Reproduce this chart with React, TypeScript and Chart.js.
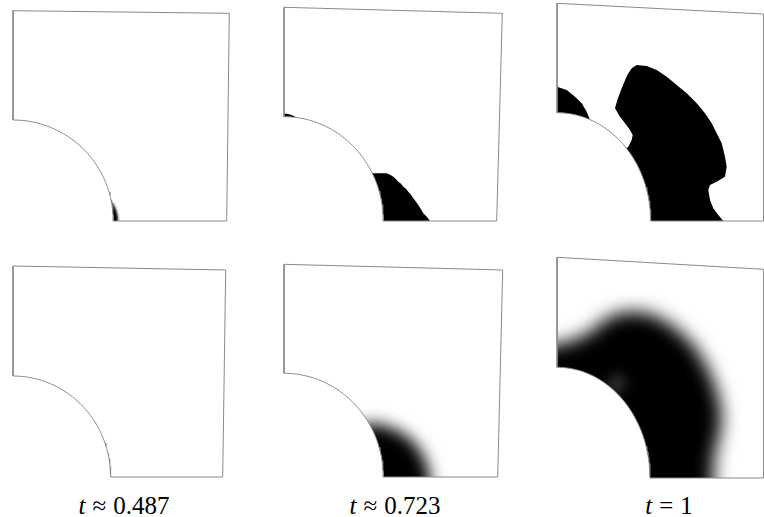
import React, { useEffect, useRef } from 'react';
import { Chart, registerables } from 'chart.js';

type P = { x: number; y: number };
type Hole = { rx: number; ry: number };

// ---- t values shown under each column ----
const tValues = ['0.487', '0.723', '1'];
const tRelations = ['\u2248', '\u2248', '='];

// ---- plate corners [bottom-right, top-right, top-left] in hole-radius units ----
const plate1: P[] = [{ x: 2.137, y: 0 }, { x: 2.163, y: 2.077 }, { x: 0, y: 2.103 }];
const plate2: P[] = [{ x: 2.127, y: 0 }, { x: 2.183, y: 2.077 }, { x: 0, y: 2.137 }];
const plate3: P[] = [{ x: 2.065, y: 0 }, { x: 2.065, y: 2.07 }, { x: 0, y: 2.177 }];
const plate4: P[] = [{ x: 2.097, y: 0 }, { x: 2.127, y: 2.07 }, { x: 0, y: 2.11 }];
const plate5: P[] = [{ x: 2.137, y: 0 }, { x: 2.187, y: 2.07 }, { x: 0, y: 2.127 }];
const plate6: P[] = [{ x: 2.065, y: 0 }, { x: 2.065, y: 2.087 }, { x: 0, y: 2.207 }];

// ---- hole semi-axes ----
const hole1: Hole = { rx: 1.003, ry: 1.01 };
const hole2: Hole = { rx: 0.993, ry: 1.043 };
const hole3: Hole = { rx: 0.937, ry: 1.083 };
const hole4: Hole = { rx: 0.977, ry: 1.01 };
const hole5: Hole = { rx: 0.993, ry: 1.037 };
const hole6: Hole = { rx: 0.93, ry: 1.107 };

// ---- material regions (black) ----
const blob1: P[] = [
  { x: 0.95, y: 0.2 }, { x: 0.99, y: 0.185 }, { x: 1.015, y: 0.15 }, { x: 1.035, y: 0.1 },
  { x: 1.048, y: 0.05 }, { x: 1.05, y: 0 }, { x: 1.05, y: -0.1 }, { x: 0.9, y: -0.1 },
];
const blob2main: P[] = [
  { x: 0.8, y: 0.477 }, { x: 1.027, y: 0.477 }, { x: 1.06, y: 0.462 }, { x: 1.093, y: 0.443 },
  { x: 1.12, y: 0.418 }, { x: 1.143, y: 0.393 }, { x: 1.17, y: 0.372 }, { x: 1.193, y: 0.343 },
  { x: 1.22, y: 0.322 }, { x: 1.243, y: 0.293 }, { x: 1.27, y: 0.262 }, { x: 1.293, y: 0.227 },
  { x: 1.32, y: 0.192 }, { x: 1.343, y: 0.16 }, { x: 1.37, y: 0.118 }, { x: 1.393, y: 0.077 },
  { x: 1.43, y: 0.04 }, { x: 1.46, y: 0 }, { x: 1.46, y: -0.1 }, { x: 0.7, y: -0.1 },
];
const blob2left: P[] = [
  { x: -0.1, y: 1.0 }, { x: -0.1, y: 1.072 }, { x: 0.03, y: 1.072 }, { x: 0.07, y: 1.062 },
  { x: 0.11, y: 1.045 }, { x: 0.1, y: 1.0 },
];
const blob3main: P[] = [
  { x: 0.55, y: 0.6 }, { x: 0.713, y: 0.743 }, { x: 0.747, y: 0.81 }, { x: 0.757, y: 0.86 },
  { x: 0.73, y: 0.91 }, { x: 0.68, y: 0.977 }, { x: 0.63, y: 1.043 }, { x: 0.58, y: 1.127 },
  { x: 0.603, y: 1.21 }, { x: 0.647, y: 1.327 }, { x: 0.703, y: 1.46 }, { x: 0.747, y: 1.527 },
  { x: 0.797, y: 1.56 }, { x: 0.897, y: 1.55 }, { x: 0.997, y: 1.51 }, { x: 1.097, y: 1.443 },
  { x: 1.197, y: 1.36 }, { x: 1.297, y: 1.277 }, { x: 1.397, y: 1.177 }, { x: 1.48, y: 1.077 },
  { x: 1.547, y: 0.977 }, { x: 1.597, y: 0.877 }, { x: 1.647, y: 0.777 }, { x: 1.68, y: 0.643 },
  { x: 1.697, y: 0.543 }, { x: 1.68, y: 0.443 }, { x: 1.597, y: 0.393 }, { x: 1.53, y: 0.36 },
  { x: 1.513, y: 0.31 }, { x: 1.53, y: 0.21 }, { x: 1.563, y: 0.127 }, { x: 1.613, y: 0.06 },
  { x: 1.663, y: 0 }, { x: 1.663, y: -0.1 }, { x: 0.6, y: -0.1 },
];
const blob3left: P[] = [
  { x: -0.1, y: 1.343 }, { x: 0, y: 1.343 }, { x: 0.097, y: 1.31 }, { x: 0.18, y: 1.243 },
  { x: 0.247, y: 1.177 }, { x: 0.297, y: 1.093 }, { x: 0.323, y: 1.027 }, { x: 0.3, y: 0.9 },
  { x: -0.1, y: 0.9 },
];
const blob5: P[] = [
  { x: 0.6, y: 0.45 }, { x: 0.85, y: 0.537 }, { x: 0.993, y: 0.52 }, { x: 1.127, y: 0.47 },
  { x: 1.26, y: 0.387 }, { x: 1.36, y: 0.27 }, { x: 1.427, y: 0.137 }, { x: 1.46, y: 0 },
  { x: 1.46, y: -0.3 }, { x: 0.6, y: -0.3 },
];
const blob6: P[] = [
  { x: -0.2, y: 1.33 }, { x: 0, y: 1.33 }, { x: 0.163, y: 1.38 }, { x: 0.33, y: 1.453 },
  { x: 0.43, y: 1.547 }, { x: 0.563, y: 1.63 }, { x: 0.697, y: 1.663 }, { x: 0.83, y: 1.663 },
  { x: 0.963, y: 1.63 }, { x: 1.097, y: 1.563 }, { x: 1.23, y: 1.463 }, { x: 1.347, y: 1.347 },
  { x: 1.447, y: 1.213 }, { x: 1.53, y: 1.047 }, { x: 1.597, y: 0.88 }, { x: 1.637, y: 0.713 },
  { x: 1.647, y: 0.547 }, { x: 1.613, y: 0.38 }, { x: 1.57, y: 0.213 }, { x: 1.563, y: 0 },
  { x: 1.563, y: -0.3 }, { x: 0.5, y: -0.3 }, { x: 0.5, y: 0.8 }, { x: -0.2, y: 0.8 },
];
const spot6: P[] = [
  { x: 0.53, y: 0.95 }, { x: 0.6, y: 1.02 }, { x: 0.67, y: 0.96 }, { x: 0.62, y: 0.87 },
];

type Blob = { points: P[]; color: string; blur: number; order: number };
type Spec = { corners: P[]; hole: Hole; blobs: Blob[] };

const BLACK = '#000000';
const specs: Spec[] = [
  { corners: plate1, hole: hole1, blobs: [{ points: blob1, color: BLACK, blur: 1, order: 2 }] },
  {
    corners: plate2, hole: hole2, blobs: [
      { points: blob2main, color: BLACK, blur: 0.7, order: 2 },
      { points: blob2left, color: BLACK, blur: 0.7, order: 2 },
    ],
  },
  {
    corners: plate3, hole: hole3, blobs: [
      { points: blob3main, color: BLACK, blur: 0.7, order: 2 },
      { points: blob3left, color: BLACK, blur: 0.7, order: 2 },
    ],
  },
  { corners: plate4, hole: hole4, blobs: [] },
  { corners: plate5, hole: hole5, blobs: [{ points: blob5, color: BLACK, blur: 8, order: 2 }] },
  {
    corners: plate6, hole: hole6, blobs: [
      { points: blob6, color: BLACK, blur: 9, order: 2 },
      { points: spot6, color: 'rgba(255,255,255,0.45)', blur: 7, order: 1 },
    ],
  },
];

// layout: hole centre of each panel in page pixels
const panelCentres = [
  [13, 221], [284, 221], [557, 221],
  [13, 477], [284, 477], [557, 478],
];
const labelCentres = [124, 395, 669];

const RANGE_MIN = -0.05;
const RANGE_MAX = 2.25;
const CANVAS = 230;

function holeArc(h: Hole, n = 60): P[] {
  const pts: P[] = [];
  for (let i = 0; i <= n; i++) {
    const a = (Math.PI / 2) * (1 - i / n);
    pts.push({ x: h.rx * Math.cos(a), y: h.ry * Math.sin(a) });
  }
  return pts;
}

function plateOutline(corners: P[], hole: Hole): P[] {
  return [{ x: hole.rx, y: 0 }, ...corners, { x: 0, y: hole.ry }, ...holeArc(hole).slice(1)];
}

const plateClipPlugin = {
  id: 'plateClip',
  beforeDatasetDraw(chart: any, args: any) {
    const ds = chart.data.datasets[args.index];
    if (!ds || !ds.clipPlate) return;
    const ctx = chart.ctx as CanvasRenderingContext2D;
    const xs = chart.scales.x;
    const ys = chart.scales.y;
    ctx.save();
    ctx.beginPath();
    ds.clipPlate.forEach((p: P, i: number) => {
      const px = xs.getPixelForValue(p.x);
      const py = ys.getPixelForValue(p.y);
      if (i === 0) ctx.moveTo(px, py);
      else ctx.lineTo(px, py);
    });
    ctx.closePath();
    ctx.clip();
    if (ds.blur) ctx.filter = `blur(${ds.blur}px)`;
  },
  afterDatasetDraw(chart: any, args: any) {
    const ds = chart.data.datasets[args.index];
    if (!ds || !ds.clipPlate) return;
    chart.ctx.restore();
  },
};

Chart.register(plateClipPlugin);
Chart.register(...registerables);

function Panel({ spec, left, top }: { spec: Spec; left: number; top: number }) {
  const ref = useRef<HTMLCanvasElement>(null);
  useEffect(() => {
    if (!ref.current) return;
    const outline = plateOutline(spec.corners, spec.hole);
    const datasets: any[] = [
      {
        data: outline,
        showLine: true,
        borderColor: '#8a8a8a',
        borderWidth: 1,
        pointRadius: 0,
        fill: false,
        order: 0,
      },
    ];
    spec.blobs.forEach((b) => {
      datasets.push({
        data: [...b.points, b.points[0]],
        showLine: true,
        borderColor: 'rgba(0,0,0,0)',
        borderWidth: 0,
        backgroundColor: b.color,
        fill: 'shape',
        pointRadius: 0,
        order: b.order,
        clipPlate: outline,
        blur: b.blur,
      });
    });
    const chart = new Chart(ref.current, {
      type: 'scatter',
      data: { datasets },
      options: {
        animation: false,
        responsive: false,
        devicePixelRatio: 1,
        events: [],
        layout: { padding: 0 },
        plugins: { legend: { display: false }, tooltip: { enabled: false } },
        scales: {
          x: { type: 'linear', min: RANGE_MIN, max: RANGE_MAX, display: false },
          y: { type: 'linear', min: RANGE_MIN, max: RANGE_MAX, display: false },
        },
      } as any,
    });
    return () => chart.destroy();
  }, [spec]);
  return (
    <canvas
      ref={ref}
      width={CANVAS}
      height={CANVAS}
      style={{ position: 'absolute', left, top, width: CANVAS, height: CANVAS }}
    />
  );
}

export default function App() {
  const pxPerUnit = CANVAS / (RANGE_MAX - RANGE_MIN);
  return (
    <div
      style={{
        position: 'fixed',
        left: 0,
        top: 0,
        width: 764,
        height: 517,
        overflow: 'hidden',
        background: '#ffffff',
      }}
    >
      {specs.map((s, i) => {
        const [cx, cy] = panelCentres[i];
        const left = Math.round(cx + RANGE_MIN * pxPerUnit);
        const top = Math.round(cy - RANGE_MAX * pxPerUnit);
        return <Panel key={i} spec={s} left={left} top={top} />;
      })}
      {tValues.map((v, i) => (
        <div
          key={'l' + i}
          style={{
            position: 'absolute',
            left: labelCentres[i] - 100,
            width: 200,
            top: 493,
            textAlign: 'center',
            font: '25px/1 "Liberation Serif", "Times New Roman", serif',
            whiteSpace: 'nowrap',
            color: '#000',
          }}
        >
          <i>t</i>
          <span style={{ margin: '0 0.28em' }}>{tRelations[i]}</span>
          {v}
        </div>
      ))}
    </div>
  );
}
